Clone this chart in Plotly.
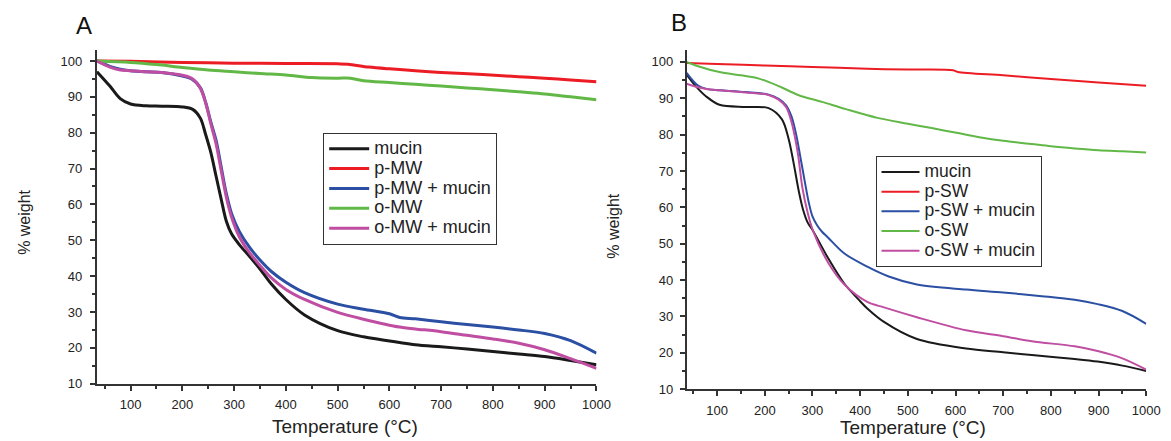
import plotly.graph_objects as go

# ---------------- Panel A data ----------------
tA_mucin = [35, 60, 80, 100, 130, 160, 200, 220, 235, 245, 255, 265, 275, 285, 295, 310, 330, 350, 372, 400, 436, 500, 550, 620, 650, 700, 750, 800, 850, 900, 950, 1000]
wA_mucin = [97, 93, 89.5, 88, 87.5, 87.4, 87.2, 86.5, 84, 79.5, 74.5, 68, 61.5, 55.3, 51.8, 48.8, 45.5, 42, 37.8, 33.5, 29.2, 24.8, 23.1, 21.5, 20.9, 20.3, 19.7, 19, 18.3, 17.6, 16.5, 15.3]

tA_pmw = [35, 100, 200, 300, 400, 500, 520, 560, 600, 650, 700, 780, 850, 900, 950, 1000]
wA_pmw = [100, 99.9, 99.6, 99.4, 99.3, 99.2, 99.1, 98.3, 97.8, 97.3, 96.8, 96.2, 95.6, 95.2, 94.7, 94.2]

tA_pmw_mucin = [35, 60, 80, 100, 130, 160, 200, 220, 235, 245, 255, 265, 275, 285, 295, 310, 330, 350, 372, 400, 436, 500, 550, 600, 620, 650, 700, 750, 800, 850, 900, 950, 1000]
wA_pmw_mucin = [100, 98.5, 97.7, 97.3, 97, 96.8, 95.8, 94.8, 92.5, 88.5, 83, 78, 70.5, 63, 57.5, 52.5, 48, 44.5, 41.3, 38.3, 35.4, 32.2, 30.8, 29.5, 28.5, 28.1, 27.3, 26.5, 25.8, 25, 24, 22, 18.5]

tA_omw = [35, 100, 150, 200, 250, 300, 350, 400, 450, 500, 525, 550, 600, 650, 700, 750, 800, 850, 900, 950, 1000]
wA_omw = [100, 99.6, 99, 98.2, 97.5, 97, 96.5, 96.1, 95.4, 95.2, 95.2, 94.5, 94, 93.5, 93, 92.5, 92, 91.4, 90.8, 90, 89.2]

tA_omw_mucin = [35, 60, 80, 100, 130, 160, 200, 220, 235, 245, 255, 265, 275, 285, 295, 310, 330, 350, 372, 400, 436, 500, 550, 620, 650, 700, 750, 800, 850, 900, 950, 1000]
wA_omw_mucin = [100, 98.3, 97.5, 97.3, 97, 96.8, 96, 95, 92.3, 88.3, 82.5, 77, 69.5, 62, 56.5, 51, 46.5, 43, 39.5, 36.3, 33.5, 29.9, 28, 25.8, 25.3, 24.5, 23.5, 22.5, 21.3, 19.5, 17, 14.3]

# ---------------- Panel B data ----------------
tB_mucin = [36, 56, 77, 105, 160, 208, 236, 250, 260, 272, 280, 290, 301, 333, 367, 400, 415, 450, 519, 622, 700, 760, 850, 898, 950, 1000]
wB_mucin = [96.5, 93.2, 90.5, 88.2, 87.6, 87.3, 84.2, 78.8, 72.5, 64, 59.5, 55.8, 53.6, 46, 39, 34.2, 32.2, 28.5, 23.8, 21.2, 20.2, 19.4, 18.3, 17.6, 16.5, 15]

tB_psw = [36, 100, 200, 300, 415, 500, 595, 605, 700, 800, 900, 1000]
wB_psw = [99.7, 99.4, 99, 98.6, 98.1, 97.9, 97.7, 97.2, 96.3, 95.3, 94.3, 93.4]

tB_psw_mucin = [36, 60, 80, 105, 160, 208, 229, 245, 256, 265, 274, 284, 292, 300, 310, 320, 332, 367, 415, 460, 519, 622, 700, 781, 850, 898, 950, 1000]
wB_psw_mucin = [97, 93.5, 92.5, 92.2, 91.7, 91, 89.8, 88, 85, 80.5, 74.3, 67, 61.5, 57.5, 55, 53.3, 51.8, 47.3, 43.7, 41, 38.8, 37.4, 36.6, 35.6, 34.6, 33.4, 31.5, 28]

tB_osw = [36, 60, 105, 150, 188, 230, 270, 320, 370, 436, 500, 550, 602, 650, 700, 760, 800, 850, 900, 950, 1000]
wB_osw = [100, 98.8, 97.2, 96.3, 95.4, 93.3, 90.9, 89, 87, 84.6, 83, 81.8, 80.5, 79.3, 78.3, 77.4, 76.8, 76.2, 75.7, 75.4, 75.1]

tB_osw_mucin = [36, 60, 80, 105, 160, 208, 229, 245, 256, 263, 270, 279, 290, 301, 333, 367, 415, 450, 519, 622, 700, 760, 850, 898, 950, 1000]
wB_osw_mucin = [94, 93, 92.5, 92.2, 91.6, 90.9, 89.6, 87.5, 83.5, 79.5, 74.3, 65.3, 58.5, 53.6, 44.8, 38.8, 34, 32.5, 29.8, 26.2, 24.6, 23.2, 21.8, 20.5, 18.5, 15.4]

names_A = ["mucin", "p-MW", "p-MW + mucin", "o-MW", "o-MW + mucin"]
names_B = ["mucin", "p-SW", "p-SW + mucin", "o-SW", "o-SW + mucin"]
colors = ["#1a1a1a", "#ec1c24", "#2a4fa3", "#62b846", "#bf4ea2"]

seriesA = [(tA_mucin, wA_mucin), (tA_pmw, wA_pmw), (tA_pmw_mucin, wA_pmw_mucin),
           (tA_omw, wA_omw), (tA_omw_mucin, wA_omw_mucin)]
seriesB = [(tB_mucin, wB_mucin), (tB_psw, wB_psw), (tB_psw_mucin, wB_psw_mucin),
           (tB_osw, wB_osw), (tB_osw_mucin, wB_osw_mucin)]

FONT = "Liberation Sans, Arial, sans-serif"
fig = go.Figure()

for (t, w), n, c in zip(seriesA, names_A, colors):
    fig.add_trace(go.Scatter(x=t, y=w, name='<span style="font-size:18px">%s</span>' % n, mode="lines",
                             line=dict(color=c, width=3, shape="spline", smoothing=0.9),
                             xaxis="x", yaxis="y", legend="legend"))
for (t, w), n, c in zip(seriesB, names_B, colors):
    fig.add_trace(go.Scatter(x=t, y=w, name='<span style="font-size:17.5px">%s</span>' % n, mode="lines",
                             line=dict(color=c, width=2, shape="spline", smoothing=0.9),
                             xaxis="x2", yaxis="y2", legend="legend2"))

W, H = 1171, 441
axis_common = dict(showline=True, linecolor="#333333", linewidth=2, ticks="outside",
                   tickcolor="#333333", tickwidth=1.5, ticklen=5, showgrid=False,
                   zeroline=False, tickfont=dict(family=FONT, size=13, color="#222222"),
                   mirror=False)
minor_x = dict(tickvals=list(range(50, 1001, 100)), ticks="outside", ticklen=3,
               tickcolor="#333333", tickwidth=1.5)
minor_y = dict(tickvals=list(range(15, 101, 10)), ticks="outside", ticklen=3,
               tickcolor="#333333", tickwidth=1.5)

fig.update_layout(
    width=W, height=H,
    margin=dict(l=0, r=0, t=0, b=0),
    paper_bgcolor="white", plot_bgcolor="white",
    font=dict(family=FONT, color="#222222"),
    xaxis=dict(domain=[90 / W, 595.6 / W], range=[35, 1000], tickvals=list(range(100, 1001, 100)),
               minor=minor_x, anchor="y", ticklabelstandoff=3, **axis_common),
    yaxis=dict(domain=[1 - 382.7 / H, 1 - 43 / H], range=[10, 103], tickvals=list(range(10, 101, 10)),
               minor=minor_y, anchor="x", ticklabelstandoff=5, **axis_common),
    xaxis2=dict(domain=[687 / W, 1152 / W], range=[36.4, 1000], tickvals=list(range(100, 1001, 100)),
                minor=minor_x, anchor="y2", ticklabelstandoff=3, **axis_common),
    yaxis2=dict(domain=[1 - 388.3 / H, 1 - 43 / H], range=[10, 103.2], tickvals=list(range(10, 101, 10)),
                minor=minor_y, anchor="x2", ticklabelstandoff=4, **axis_common),
    legend=dict(x=319 / W, y=1 - 127 / H, xanchor="left", yanchor="top",
                bordercolor="#333333", borderwidth=1, bgcolor="white",
                font=dict(family=FONT, size=13, color="#222222"),
                tracegroupgap=0, itemwidth=40),
    legend2=dict(x=878 / W, y=1 - 151 / H, xanchor="left", yanchor="top",
                 bordercolor="#333333", borderwidth=1, bgcolor="white",
                 font=dict(family=FONT, size=12.8, color="#222222"),
                 tracegroupgap=0, itemwidth=38),
    showlegend=True,
)

ann = [
    dict(text="A", x=77 / W, y=1 - 18 / H, font=dict(size=24, family=FONT, color="#111111")),
    dict(text="B", x=679 / W, y=1 - 15 / H, font=dict(size=24, family=FONT, color="#111111")),
    dict(text="Temperature (°C)", x=341 / W, y=1 - 426 / H, font=dict(size=19, family=FONT, color="#222222")),
    dict(text="Temperature (°C)", x=916 / W, y=1 - 427 / H, font=dict(size=19, family=FONT, color="#222222")),
    dict(text="% weight", x=16 / W, y=1 - 218 / H, textangle=-90, font=dict(size=16, family=FONT, color="#222222")),
    dict(text="% weight", x=613 / W, y=1 - 222 / H, textangle=-90, font=dict(size=16, family=FONT, color="#222222")),
]
for a in ann:
    fig.add_annotation(xref="paper", yref="paper", showarrow=False,
                       xanchor="center", yanchor="middle", **a)

fig.write_html("out.html")
